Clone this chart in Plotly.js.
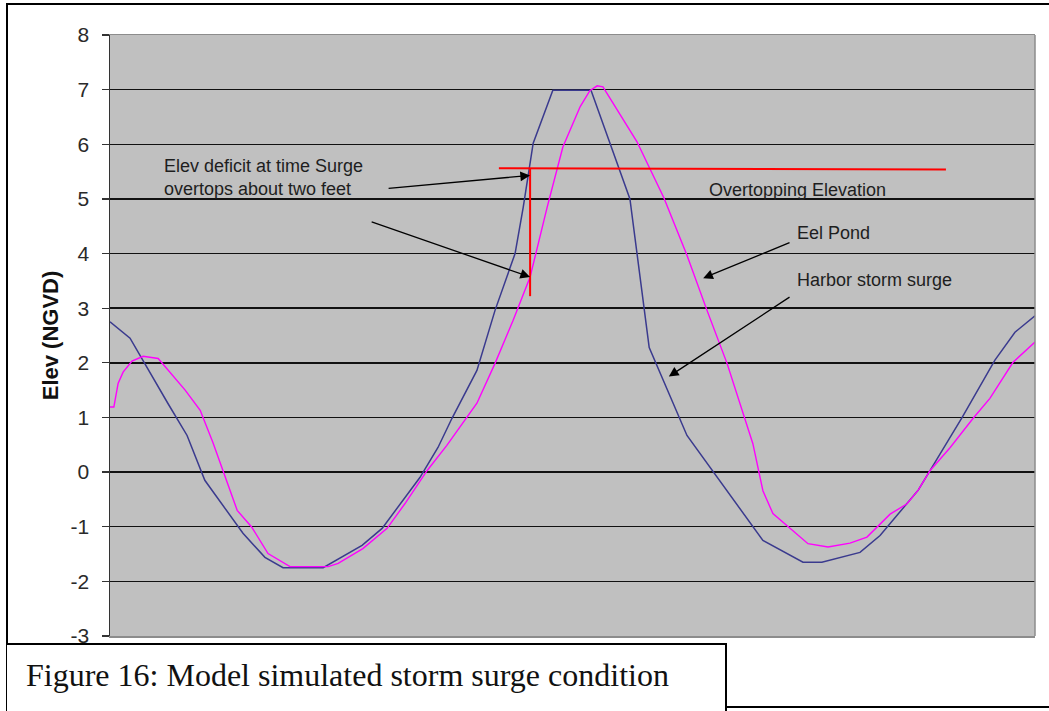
<!DOCTYPE html>
<html>
<head>
<meta charset="utf-8">
<script src="https://cdn.plot.ly/plotly-3.0.1.min.js"></script>
<style>
  html, body { margin: 0; padding: 0; background: #ffffff; }
  #wrap { position: relative; width: 1049px; height: 711px; overflow: hidden; }
  #chart { position: absolute; left: 0; top: 0; width: 1049px; height: 711px; }
  .frame { position: absolute; background: #000; }
  #caption { position: absolute; left: 7px; top: 643px; width: 718px; height: 80px;
    border-top: 2px solid #000; border-right: 2px solid #000; background: #fff;
    font-family: "Liberation Serif", "Times New Roman", serif; font-size: 32px; color: #111; }
  #caption span { position: absolute; left: 19px; top: 12px; white-space: nowrap; }
</style>
</head>
<body>
<div id="wrap">
  <div id="chart"></div>
  <div class="frame" style="left:6px; top:3px; width:1043px; height:2px;"></div>
  <div class="frame" style="left:6px; top:3px; width:2px; height:708px;"></div>
  <div class="frame" style="left:727px; top:706px; width:322px; height:2px;"></div>
  <div id="caption"><span>Figure 16: Model simulated storm surge condition</span></div>
</div>
<script>
// time in hours (x axis has no labels)
var harborT = [0.00, 0.52, 1.50, 2.00, 2.46, 3.45, 4.02, 4.49, 5.53, 6.54, 7.06, 7.65, 8.04, 8.51, 8.87, 9.52, 9.99, 10.51, 10.72, 10.98, 11.49, 12.48, 12.97, 13.49, 13.99, 14.97, 16.94, 17.98, 18.47, 19.46, 19.98, 20.97, 22.11, 22.96, 23.48, 24.00];
var harborElev = [2.75, 2.45, 1.26, 0.67, -0.15, -1.12, -1.56, -1.75, -1.75, -1.34, -1.03, -0.48, -0.10, 0.45, 0.98, 1.86, 2.96, 4.00, 4.84, 6.02, 6.99, 6.99, 6.02, 5.00, 2.28, 0.67, -1.25, -1.65, -1.65, -1.47, -1.16, -0.33, 1.00, 2.05, 2.56, 2.86];

var eelT = [0.00, 0.10, 0.21, 0.34, 0.57, 0.86, 1.25, 1.69, 1.95, 2.34, 2.67, 2.93, 3.30, 3.68, 4.10, 4.67, 5.66, 5.92, 6.56, 7.19, 7.65, 8.23, 8.74, 9.52, 9.99, 10.46, 10.90, 11.34, 11.75, 12.20, 12.45, 12.64, 12.79, 13.67, 14.37, 14.97, 15.49, 16.01, 16.68, 16.94, 17.20, 18.11, 18.63, 19.20, 19.64, 20.24, 20.68, 20.97, 21.28, 21.80, 22.39, 22.83, 23.43, 24.00];
var eelElev = [1.19, 1.19, 1.62, 1.83, 2.03, 2.12, 2.08, 1.71, 1.50, 1.13, 0.54, 0.03, -0.70, -1.01, -1.49, -1.73, -1.73, -1.67, -1.40, -1.03, -0.58, 0.03, 0.49, 1.26, 1.99, 2.78, 3.57, 4.84, 5.95, 6.69, 6.98, 7.07, 7.05, 6.05, 5.02, 3.97, 2.96, 1.99, 0.52, -0.34, -0.76, -1.31, -1.37, -1.30, -1.19, -0.77, -0.58, -0.33, 0.03, 0.45, 0.98, 1.35, 2.01, 2.38];

var overtopT = [10.09, 21.69];
var overtopElev = [5.56, 5.54];
var deficitT = [10.90, 10.90];
var deficitElev = [5.56, 3.22];

var yTicks = [-3, -2, -1, 0, 1, 2, 3, 4, 5, 6, 7, 8];

var traces = [
  { x: harborT, y: harborElev, mode: 'lines', name: 'Harbor storm surge',
    line: { color: '#3a3a8e', width: 1.5 }, hoverinfo: 'skip' },
  { x: eelT, y: eelElev, mode: 'lines', name: 'Eel Pond',
    line: { color: '#ff00ff', width: 1.4 }, hoverinfo: 'skip' },
  { x: overtopT, y: overtopElev, mode: 'lines', name: 'Overtopping Elevation',
    line: { color: '#ff0000', width: 2 }, hoverinfo: 'skip' },
  { x: deficitT, y: deficitElev, mode: 'lines', name: 'Deficit',
    line: { color: '#ff0000', width: 2 }, hoverinfo: 'skip' }
];

var font = { family: 'Liberation Sans, Arial, sans-serif', size: 18, color: '#1e1e1e' };

function label(t, x, y) {
  return { text: t, x: x, y: y, xref: 'x', yref: 'y', showarrow: false,
    xanchor: 'left', yanchor: 'middle', align: 'left', font: font };
}
function arrow(x, y, ax, ay) {
  return { text: '', x: x, y: y, ax: ax, ay: ay, xref: 'x', yref: 'y', axref: 'x', ayref: 'y',
    showarrow: true, arrowhead: 2, arrowsize: 1.5, arrowwidth: 1.3, arrowcolor: '#000', standoff: 0 };
}

var layout = {
  width: 1049, height: 711,
  margin: { l: 110, r: 14, t: 35, b: 75 },
  paper_bgcolor: '#ffffff',
  plot_bgcolor: '#c0c0c0',
  showlegend: false,
  font: font,
  xaxis: {
    range: [0, 24], showticklabels: false, ticks: '', showgrid: false, zeroline: false,
    showline: true, linecolor: '#8c8c8c', linewidth: 1.5, mirror: true, fixedrange: true
  },
  yaxis: {
    range: [-3, 8], tickvals: yTicks, ticktext: yTicks.map(String),
    ticks: 'outside', ticklen: 7, tickcolor: '#333', tickwidth: 1.3,
    ticklabelstandoff: 8,
    showline: true, linecolor: '#333', linewidth: 1.5,
    showgrid: true, gridcolor: '#111', gridwidth: 1.4, zeroline: false,
    tickfont: { family: 'Liberation Sans, Arial, sans-serif', size: 21, color: '#2a2a2a' },
    title: { text: 'Elev (NGVD)', standoff: 6,
      font: { family: 'Liberation Sans, Arial, sans-serif', size: 22, color: '#111', weight: 'bold' } },
    fixedrange: true
  },
  shapes: [
    { type: 'line', xref: 'paper', yref: 'paper', x0: 1, x1: 1, y0: 0, y1: 1,
      line: { color: '#8c8c8c', width: 1.5 } }
  ],
  annotations: [
    label('Elev deficit at time Surge<br>overtops about two feet', 1.35, 5.40),
    label('Overtopping Elevation', 15.49, 5.17),
    label('Eel Pond', 17.77, 4.37),
    label('Harbor storm surge', 17.77, 3.51),
    arrow(10.90, 5.43, 7.19, 5.19),
    arrow(10.90, 3.57, 6.75, 4.59),
    arrow(15.39, 3.55, 17.67, 4.21),
    arrow(14.50, 1.75, 17.67, 3.22)
  ]
};

Plotly.newPlot('chart', traces, layout, { displayModeBar: false, staticPlot: true });
</script>
</body>
</html>
